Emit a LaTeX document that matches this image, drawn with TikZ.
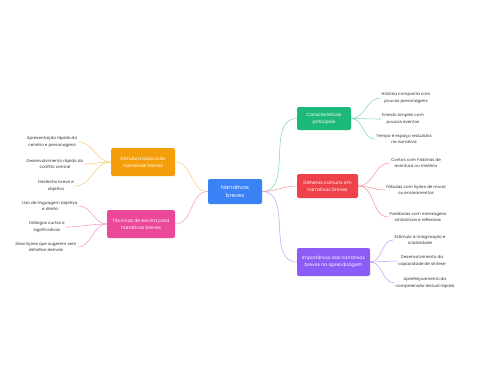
\documentclass[tikz,border=0pt]{standalone}
\usepackage{fontspec}
\setmainfont{Poppins}
\definecolor{rootblue}{HTML}{3B82F6}
\definecolor{mintgreen}{HTML}{1DB97A}
\definecolor{coral}{HTML}{EF4149}
\definecolor{violet}{HTML}{8B5CF6}
\definecolor{amber}{HTML}{F59E0B}
\definecolor{rose}{HTML}{EC4899}
\definecolor{leaftext}{HTML}{333333}

\tikzset{
    root/.style={rectangle, rounded corners=2pt, fill=rootblue, text=white, align=center,
        font=\fontsize{5.4}{8}\selectfont, minimum width=54pt, minimum height=25pt, inner sep=1pt},
    topic/.style={rectangle, rounded corners=2pt, text=white, align=center,
        font=\fontsize{4.6}{6.8}\selectfont, inner sep=1pt},
    leaf/.style={align=center, text=leaftext, font=\fontsize{4.1}{6.2}\selectfont, inner sep=1pt},
    link/.style={line width=0.55pt, out=#1, in=180-#1},
}

\begin{document}
\begin{tikzpicture}[x=1pt, y=-1pt]
        \useasboundingbox (0,0) rectangle (480,384);
        % Root
        \node[root] (root) at (235,191.5) {Narrativas\\breves};
        % Main topics
        \node[topic, fill=mintgreen, minimum width=54pt, minimum height=23pt] (traits) at (324,118.5) {Características\\principais};
        \node[topic, fill=coral, minimum width=61pt, minimum height=24pt] (genres) at (327.5,186) {Gêneros comuns em\\narrativas breves};
        \node[topic, fill=violet, minimum width=73pt, minimum height=28pt] (value) at (333.5,262) {Importância das narrativas\\breves na aprendizagem};
        \node[topic, fill=amber, minimum width=64pt, minimum height=28pt] (frame) at (143,162) {Estrutura básica de\\narrativas breves};
        \node[topic, fill=rose, minimum width=68pt, minimum height=28pt] (craft) at (141,224) {Técnicas de escrita para\\narrativas breves};
        % Root links
        \draw[link=0, mintgreen!55] (root.east) to (traits.west);
        \draw[link=0, coral!55] (root.east) to (genres.west);
        \draw[link=0, violet!55] (root.east) to (value.west);
        \draw[link=180, amber!55] (root.west) to (frame.east);
        \draw[link=180, rose!55] (root.west) to (craft.east);
        % Leaves of traits
        \foreach \nm/\x/\y/\txt in {t1/406/98/{História compacta com\\poucos personagens},
                                   t2/403/119/{Enredo simples com\\poucos eventos},
                                   t3/404/139/{Tempo e espaço reduzidos\\na narrativa}} {
            \node[leaf] (\nm) at (\x,\y) {\txt};
            \draw[link=0, mintgreen!55] (traits.east) to (\nm.west);
        }
        % Leaves of genres
        \foreach \nm/\x/\y/\txt in {g1/416/163/{Contos com histórias de\\aventura ou mistério},
                                   g2/416/190/{Fábulas com lições de moral\\ou ensinamentos},
                                   g3/418/217/{Parábolas com mensagens\\simbólicas e reflexivas}} {
            \node[leaf] (\nm) at (\x,\y) {\txt};
            \draw[link=0, coral!55] (genres.east) to (\nm.west);
        }
        % Leaves of value
        \foreach \nm/\x/\y/\txt in {v1/420/240/{Estímulo à imaginação e\\criatividade},
                                   v2/422/261/{Desenvolvimento da\\capacidade de síntese},
                                   v3/425/283/{Aperfeiçoamento da\\compreensão textual rápida}} {
            \node[leaf] (\nm) at (\x,\y) {\txt};
            \draw[link=0, violet!55] (value.east) to (\nm.west);
        }
        % Leaves of frame
        \foreach \nm/\x/\y/\txt in {f1/52/142/{Apresentação rápida do\\cenário e personagens},
                                   f2/55/164/{Desenvolvimento rápido do\\conflito central},
                                   f3/56/186/{Desfecho breve e\\objetivo}} {
            \node[leaf] (\nm) at (\x,\y) {\txt};
            \draw[link=180, amber!55] (frame.west) to (\nm.east);
        }
        % Leaves of craft
        \foreach \nm/\x/\y/\txt in {c1/50/206/{Uso de linguagem objetiva\\e direta},
                                   c2/47/227/{Diálogos curtos e\\significativos},
                                   c3/46/247/{Descrições que sugerem sem\\detalhar demais}} {
            \node[leaf] (\nm) at (\x,\y) {\txt};
            \draw[link=180, rose!55] (craft.west) to (\nm.east);
        }
    \end{tikzpicture}
\end{document}
